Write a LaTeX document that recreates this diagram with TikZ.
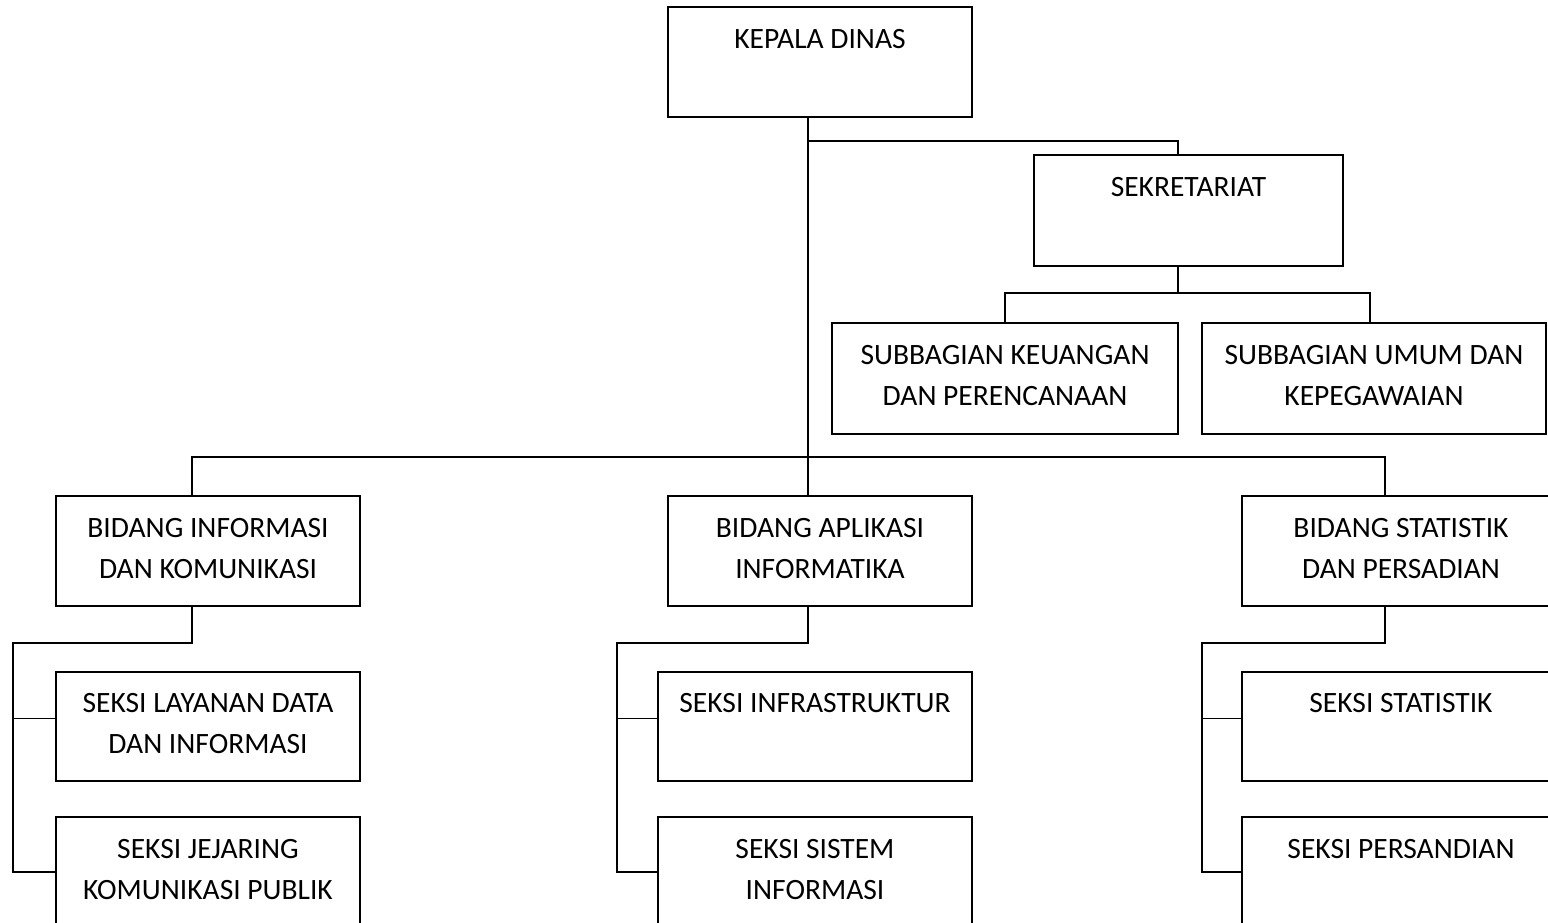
\documentclass[tikz,border=0pt]{standalone}
\usepackage{fontspec}
\setmainfont{Carlito}
\usetikzlibrary{positioning}

\begin{document}
\begin{tikzpicture}[
  x=1pt, y=-1pt,
  box/.style={draw, rectangle, line width=2pt, minimum width=304pt, minimum height=110pt, align=center, inner sep=0pt, text depth=6pt, font=\fontsize{29.5}{41}\selectfont},
  wide/.style={box, minimum width=318pt},
  line/.style={line width=1.6pt}
]
\useasboundingbox (0,0) rectangle (1548,922);
\node[box] (kd) at (820,62) {KEPALA DINAS\\\mbox{}};
\node[box, minimum width=309pt, minimum height=111pt] (sek) at (1188.5,210.5) {SEKRETARIAT\\\mbox{}};
\node[box, minimum width=346pt, minimum height=111pt] (sk) at (1005,378.5) {SUBBAGIAN KEUANGAN\\DAN PERENCANAAN};
\node[box, minimum width=344pt, minimum height=111pt] (su) at (1374,378.5) {SUBBAGIAN UMUM DAN\\KEPEGAWAIAN};
\node[box] (bi) at (208,551) {BIDANG INFORMASI\\DAN KOMUNIKASI};
\node[box] (ba) at (820,551) {BIDANG APLIKASI\\INFORMATIKA};
\node[wide] (bs) at (1401,551) {BIDANG STATISTIK\\DAN PERSADIAN};
\node[box, minimum height=109pt] (l1) at (208,726.5) {SEKSI LAYANAN DATA\\DAN INFORMASI};
\node[box] (l2) at (208,872) {SEKSI JEJARING\\KOMUNIKASI PUBLIK};
\node[box, minimum width=314pt, minimum height=109pt] (a1) at (815,726.5) {SEKSI INFRASTRUKTUR\\\mbox{}};
\node[box, minimum width=314pt] (a2) at (815,872) {SEKSI SISTEM\\INFORMASI};
\node[wide, minimum height=109pt] (s1) at (1401,726.5) {SEKSI STATISTIK\\\mbox{}};
\node[wide] (s2) at (1401,872) {SEKSI PERSANDIAN\\\mbox{}};
% kepala dinas ke bidang dan sekretariat
\draw[line] ([xshift=-12pt]kd.south) -- ([xshift=-12pt]ba.north);
\draw[line] ([xshift=-12pt,yshift=-23pt]kd.south) -| ([xshift=-10.5pt]sek.north);
\draw[line] ([xshift=-16pt]bi.north) -- ++(0,-38) -| ([xshift=-16pt]bs.north);
% sekretariat
\draw[line] ([xshift=-10.5pt]sek.south) -- ++(0,26) -| (sk.north);
\draw[line] ([xshift=-10.5pt,yshift=-26pt]sek.south) -| ([xshift=-4pt]su.north);
% seksi
\draw[line] ([xshift=-16pt]bi.south) -- ++(0,36) -| ([xshift=-42pt]l2.west) -- (l2.west);
\draw[line] ([xshift=-42pt,yshift=8pt]l1.west) -- ([yshift=8pt]l1.west);
\draw[line] ([xshift=-12pt]ba.south) -- ++(0,36) -| ([xshift=-40pt]a2.west) -- (a2.west);
\draw[line] ([xshift=-40pt,yshift=8pt]a1.west) -- ([yshift=8pt]a1.west);
\draw[line] ([xshift=-16pt]bs.south) -- ++(0,36) -| ([xshift=-39pt]s2.west) -- (s2.west);
\draw[line] ([xshift=-39pt,yshift=8pt]s1.west) -- ([yshift=8pt]s1.west);
\end{tikzpicture}
\end{document}
